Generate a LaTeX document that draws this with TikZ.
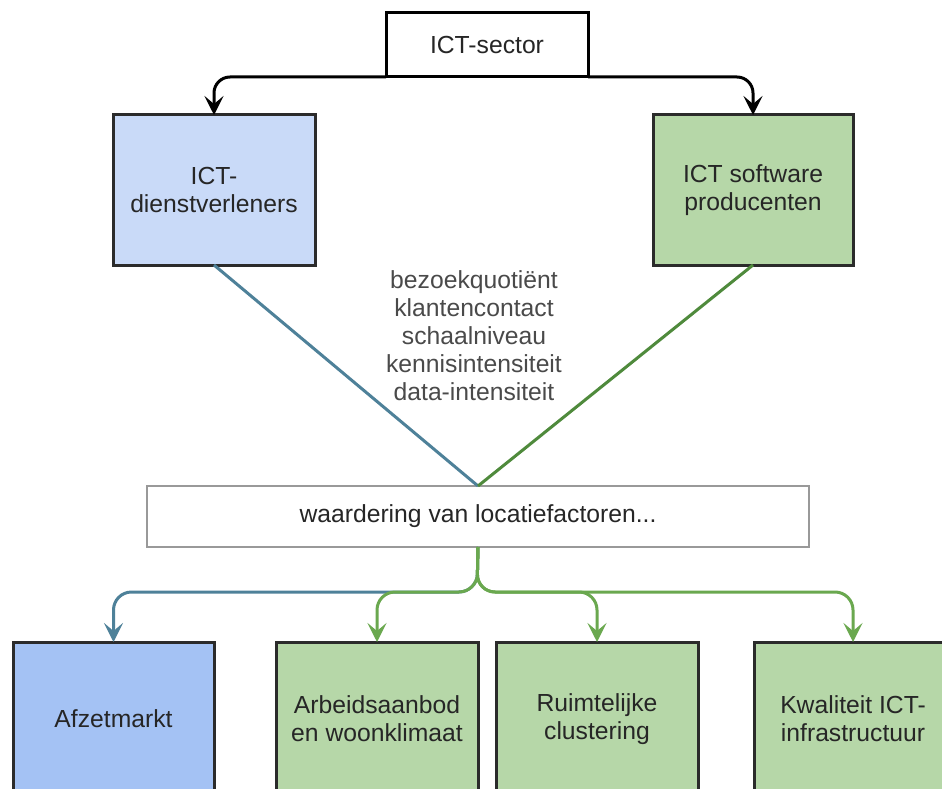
\documentclass[tikz,border=0pt]{standalone}
\usepackage{fontspec}
\setmainfont{Liberation Sans}
\usetikzlibrary{arrows.meta}
\definecolor{bluefill}{HTML}{C9DAF8}
\definecolor{bluefilltwo}{HTML}{A4C2F4}
\definecolor{greenfill}{HTML}{B6D7A8}
\definecolor{blueline}{HTML}{4E8199}
\definecolor{greenline}{HTML}{6AA84F}
\definecolor{greenlinedark}{HTML}{4F8A3C}
\definecolor{boxborder}{HTML}{2B2B2B}
\definecolor{textdark}{HTML}{262626}
\definecolor{textgray}{HTML}{4A4A4A}
\begin{document}
\begin{tikzpicture}[x=1pt,y=-1pt,
  txt/.style={font=\fontsize{24.7}{28}\selectfont, align=center},
  box/.style={txt, draw=boxborder, line width=3pt, inner sep=0pt, outer sep=0pt, text=textdark},
  bluebox/.style={box, fill=bluefill},
  greenbox/.style={box, fill=greenfill},
  tip/.style={-{Stealth[length=19pt,width=19pt,inset=8pt]}},
  blk/.style={draw=black, line width=3pt, rounded corners=16pt, tip},
  bl/.style={draw=blueline, line width=3pt, rounded corners=18pt, tip},
  gr/.style={draw=greenline, line width=3pt, rounded corners=18pt, tip}
]
\useasboundingbox (0,0) rectangle (942,789);
\clip (0,0) rectangle (942,789);
\fill[white] (0,0) rectangle (942,789);

\node[box, draw=black, fill=white, minimum width=202pt, minimum height=64pt] (s) at (487,45) {ICT-sector};
\node[bluebox, minimum width=202pt, minimum height=150pt] (d) at (214,190) {ICT-\\dienstverleners};
\node[greenbox, minimum width=200pt, minimum height=150pt] (p) at (753,190) {ICT software\\producenten};

\node[txt, text=textgray] (t) at (474,336) {bezoekquoti\"ent\\klantencontact\\schaalniveau\\kennisintensiteit\\data-intensiteit};

\node[box, draw=gray!80, line width=1.5pt, fill=white, minimum width=662pt, minimum height=61pt] (w) at (478,516.5) {waardering van locatiefactoren...};

\node[box, fill=bluefilltwo, minimum width=201pt, minimum height=154pt] (a) at (113.5,719) {Afzetmarkt};
\node[greenbox, minimum width=202pt, minimum height=154pt] (b) at (377,719) {Arbeidsaanbod\\en woonklimaat};
\node[greenbox, minimum width=202pt, minimum height=154pt] (c) at (597,719) {Ruimtelijke\\clustering};
\node[greenbox, minimum width=198pt, minimum height=154pt] (k) at (853,719) {Kwaliteit ICT-\\infrastructuur};

\draw[blk] (s.south west) -| (d.north);
\draw[blk] (s.south east) -| (p.north);

\draw[blueline, line width=3pt] (d.south) -- (w.north);
\draw[greenlinedark, line width=3pt] (p.south) -- (w.north);

\coordinate (j) at (477,592);
\draw[bl] (w.south) -- (j) -| (a.north);
\draw[gr] (w.south) -- (j) -| (b.north);
\draw[gr] (w.south) -- (j) -| (c.north);
\draw[gr] (w.south) -- (j) -| (k.north);
\end{tikzpicture}
\end{document}
